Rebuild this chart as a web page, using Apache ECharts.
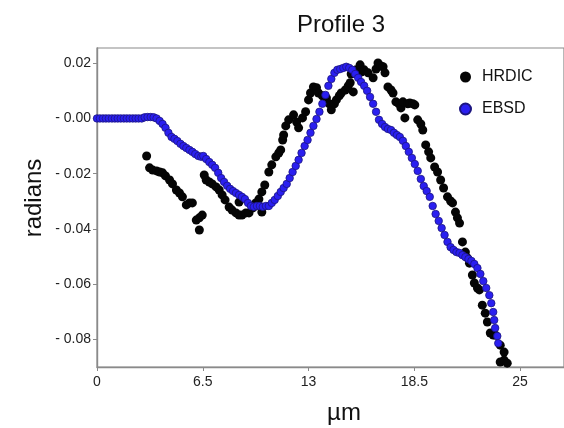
<!DOCTYPE html>
<html>
<head>
<meta charset="utf-8">
<script src="https://cdn.jsdelivr.net/npm/echarts@6/dist/echarts.min.js"></script>
<style>
  html, body { margin: 0; padding: 0; background: #fff; }
  #chart { width: 564px; height: 428px; }
</style>
</head>
<body>
<div id="chart"></div>
<script>
// Profile 3: rotation (radians) along the profile line, HRDIC vs EBSD

// Axis ticks
const xTickValues = [0, 6.5, 13, 19.5, 26];
const xTickLabels = ['0', '6.5', '13', '18.5', '25'];
const yTickValues = [0.02, 0, -0.02, -0.04, -0.06, -0.08];
const yTickLabels = ['0.02', '- 0.00', '- 0.02', '- 0.04', '- 0.06', '- 0.08'];

// HRDIC measurements (µm, radians)
const hrdicX = [
  3.05, 3.23, 3.42, 3.66, 3.85, 4.03, 4.21, 4.46, 4.64, 4.88, 5.07, 5.25, 5.49, 5.68, 5.86,
  6.10, 6.29, 6.47, 6.29, 6.59, 6.71, 6.90, 7.08, 7.32, 7.51, 7.69, 7.87, 8.12, 8.30, 8.54,
  8.73, 8.91, 9.15, 9.34, 8.73, 9.58, 9.76, 9.95, 10.13, 10.13, 10.31, 10.56, 10.74, 10.99,
  11.17, 11.29, 11.41, 11.47, 11.60, 11.78, 12.08, 12.27, 12.39, 12.63, 12.82, 13.00, 13.12,
  13.30, 13.49, 13.61, 13.85, 14.10, 14.28, 14.40, 14.59, 14.71, 14.89, 15.01, 15.26, 15.44,
  15.56, 15.75, 15.62, 15.93, 16.17, 16.23, 16.42, 16.66, 16.97, 17.15, 17.27, 17.45, 17.58,
  17.70, 17.88, 18.07, 18.19, 18.37, 18.55, 18.68, 18.80, 18.92, 19.10, 19.22, 19.41, 19.53,
  19.71, 19.90, 20.02, 20.20, 20.38, 20.51, 20.75, 20.93, 21.12, 21.30, 21.54, 21.73, 21.85,
  22.03, 22.15, 22.28, 22.46, 22.64, 22.76, 22.89, 23.07, 23.19, 23.38, 23.50, 23.68, 23.86,
  23.99, 24.17, 24.35, 24.47, 24.78, 25.02, 24.78, 25.02, 25.21
];
const hrdicY = [
  -0.0136, -0.0179, -0.0187, -0.0190, -0.0194, -0.0197, -0.0208, -0.0223, -0.0237, -0.0259, -0.0270, -0.0284, -0.0313, -0.0306, -0.0306,
  -0.0368, -0.0360, -0.0350, -0.0404, -0.0205, -0.0223, -0.0230, -0.0237, -0.0248, -0.0259, -0.0277, -0.0295, -0.0321, -0.0332, -0.0342,
  -0.0350, -0.0350, -0.0342, -0.0342, -0.0303, -0.0324, -0.0306, -0.0292, -0.0266, -0.0339, -0.0241, -0.0194, -0.0168, -0.0139,
  -0.0125, -0.0114, -0.0078, -0.0060, -0.0027, -0.0005, 0.0013, -0.0013, -0.0034, 0.0002, 0.0024, 0.0067, 0.0092,
  0.0114, 0.0111, 0.0092, 0.0082, 0.0074, 0.0053, 0.0031, 0.0053, 0.0067, 0.0082, 0.0092, 0.0103, 0.0118,
  0.0129, 0.0096, 0.0161, 0.0176, 0.0194, 0.0168, 0.0176, 0.0165, 0.0147, 0.0179, 0.0201, 0.0190, 0.0187,
  0.0165, 0.0114, 0.0103, 0.0092, 0.0060, 0.0053, 0.0038, 0.0060, 0.0002, 0.0053, 0.0056, 0.0053, 0.0049,
  -0.0005, -0.0020, -0.0042, -0.0096, -0.0121, -0.0143, -0.0176, -0.0194, -0.0223, -0.0252, -0.0284, -0.0299, -0.0306,
  -0.0339, -0.0360, -0.0379, -0.0447, -0.0484, -0.0505, -0.0524, -0.0567, -0.0596, -0.0614, -0.0621, -0.0676, -0.0705,
  -0.0737, -0.0777, -0.0784, -0.0784, -0.0821, -0.0846, -0.0882, -0.0875, -0.0886
];

// EBSD measurements (µm, radians)
const ebsdX = [
  0, 0.18, 0.37, 0.55, 0.73, 0.92, 1.10, 1.28, 1.46, 1.65, 1.83, 2.01, 2.20, 2.38, 2.56, 2.75,
  2.93, 3.11, 3.30, 3.48, 3.66, 3.85, 4.03, 4.21, 4.39, 4.58, 4.76, 4.94, 5.13, 5.31, 5.49,
  5.68, 5.86, 6.04, 6.23, 6.41, 6.53, 6.71, 6.90, 7.08, 7.26, 7.45, 7.63, 7.81, 8.00, 8.18,
  8.36, 8.54, 8.73, 8.91, 9.09, 9.28, 9.46, 9.64, 9.83, 10.01, 10.19, 10.38, 10.56, 10.74,
  10.92, 11.11, 11.29, 11.47, 11.66, 11.84, 12.02, 12.21, 12.39, 12.57, 12.76, 12.94, 13.12,
  13.30, 13.49, 13.67, 13.85, 14.04, 14.22, 14.40, 14.59, 14.77, 14.95, 15.14, 15.32, 15.50,
  15.69, 15.87, 16.05, 16.23, 16.42, 16.60, 16.78, 16.97, 17.15, 17.33, 17.52, 17.70, 17.88,
  18.07, 18.25, 18.43, 18.61, 18.80, 18.98, 19.16, 19.35, 19.53, 19.71, 19.90, 20.08, 20.26,
  20.45, 20.63, 20.81, 21.00, 21.18, 21.36, 21.54, 21.73, 21.91, 22.09, 22.28, 22.46, 22.64,
  22.83, 23.01, 23.19, 23.38, 23.56, 23.74, 23.92, 24.11, 24.23, 24.35, 24.41, 24.47, 24.60, 24.66
];
const ebsdY = [
  0, 0, 0, 0, 0, 0, 0, 0, 0, 0, 0, 0, 0, 0, 0, 0,
  0.0004, 0.0005, 0.0005, 0.0004, 0, -0.0009, -0.0020, -0.0034, -0.0052, -0.0067, -0.0074, -0.0082, -0.0092, -0.0100, -0.0107,
  -0.0114, -0.0121, -0.0129, -0.0136, -0.0139, -0.0136, -0.0147, -0.0158, -0.0168, -0.0179, -0.0197, -0.0216, -0.0230, -0.0244, -0.0255,
  -0.0263, -0.0270, -0.0277, -0.0284, -0.0292, -0.0306, -0.0317, -0.0320, -0.0317, -0.0317, -0.0320, -0.0317, -0.0317, -0.0306,
  -0.0295, -0.0281, -0.0266, -0.0252, -0.0237, -0.0216, -0.0194, -0.0172, -0.0150, -0.0125, -0.0100, -0.0078, -0.0052,
  -0.0027, -0.0002, 0.0024, 0.0053, 0.0085, 0.0118, 0.0143, 0.0165, 0.0176, 0.0179, 0.0183, 0.0187, 0.0183,
  0.0176, 0.0161, 0.0147, 0.0132, 0.0118, 0.0100, 0.0078, 0.0053, 0.0024, -0.0005, -0.0020, -0.0031, -0.0038,
  -0.0042, -0.0052, -0.0060, -0.0067, -0.0081, -0.0100, -0.0121, -0.0143, -0.0165, -0.0190, -0.0219, -0.0245, -0.0263,
  -0.0284, -0.0317, -0.0346, -0.0371, -0.0397, -0.0422, -0.0447, -0.0466, -0.0476, -0.0484, -0.0487, -0.0495, -0.0502,
  -0.0509, -0.0516, -0.0527, -0.0542, -0.0563, -0.0589, -0.0614, -0.0640, -0.0669, -0.0701, -0.0730, -0.0759, -0.0788, -0.0814
];

const zip = (xs, ys) => xs.map((x, i) => [x, ys[i]]);
const labelFor = (values, labels) => (v) => {
  const i = values.findIndex((t) => Math.abs(t - v) < 1e-9);
  return i >= 0 ? labels[i] : '';
};

const FONT = 'Liberation Sans, Arial, sans-serif';
const AXIS_GREY = '#8a8a8a';

const chart = echarts.init(document.getElementById('chart'), null, { renderer: 'canvas' });
chart.setOption({
  animation: false,
  backgroundColor: '#ffffff',
  textStyle: { fontFamily: FONT },
  title: {
    text: 'Profile 3',
    left: 292,
    top: 8,
    textStyle: { fontFamily: FONT, fontSize: 24, fontWeight: 'normal', color: '#111' }
  },
  legend: {
    orient: 'vertical',
    left: 454,
    top: 64,
    itemWidth: 11,
    itemHeight: 11,
    itemGap: 16,
    icon: 'circle',
    textStyle: { fontFamily: FONT, fontSize: 16, color: '#111', padding: [0, 0, 0, 6] },
    data: ['HRDIC', 'EBSD']
  },
  grid: {
    left: 97, right: -3, top: 48, bottom: 61,
    show: true, borderColor: AXIS_GREY, borderWidth: 1.2, backgroundColor: '#fff'
  },
  xAxis: {
    type: 'value',
    min: 0,
    max: 28.7,
    splitLine: { show: false },
    axisLine: { onZero: false, lineStyle: { color: AXIS_GREY, width: 1.4 } },
    axisTick: { show: true, length: 4, customValues: xTickValues, lineStyle: { color: AXIS_GREY } },
    axisLabel: {
      customValues: xTickValues,
      formatter: labelFor(xTickValues, xTickLabels),
      fontFamily: FONT, fontSize: 14, color: '#222', margin: 8
    }
  },
  yAxis: {
    type: 'value',
    min: -0.0900,
    max: 0.0255,
    splitLine: { show: false },
    axisLine: { show: true, onZero: false, lineStyle: { color: AXIS_GREY, width: 1.4 } },
    axisTick: { show: true, length: 4, customValues: yTickValues, lineStyle: { color: AXIS_GREY } },
    axisLabel: {
      customValues: yTickValues,
      formatter: labelFor(yTickValues, yTickLabels),
      fontFamily: FONT, fontSize: 14, color: '#222', margin: 6
    }
  },
  graphic: [
    {
      type: 'text', x: 34, y: 198, rotation: Math.PI / 2,
      style: { text: 'radians', font: '24px ' + FONT, fill: '#111', align: 'center', verticalAlign: 'middle' }
    },
    {
      type: 'text', x: 344, y: 413,
      style: { text: 'µm', font: '24px ' + FONT, fill: '#111', align: 'center', verticalAlign: 'middle' }
    }
  ],
  series: [
    {
      name: 'HRDIC',
      type: 'scatter',
      symbol: 'circle',
      symbolSize: 9,
      clip: false,
      itemStyle: { color: '#050505', opacity: 1 },
      data: zip(hrdicX, hrdicY)
    },
    {
      name: 'EBSD',
      type: 'scatter',
      symbol: 'circle',
      symbolSize: 7.5,
      clip: false,
      itemStyle: { color: '#2a1ff0', borderColor: '#1c1580', borderWidth: 0.8, opacity: 1 },
      data: zip(ebsdX, ebsdY)
    }
  ]
});
</script>
</body>
</html>
